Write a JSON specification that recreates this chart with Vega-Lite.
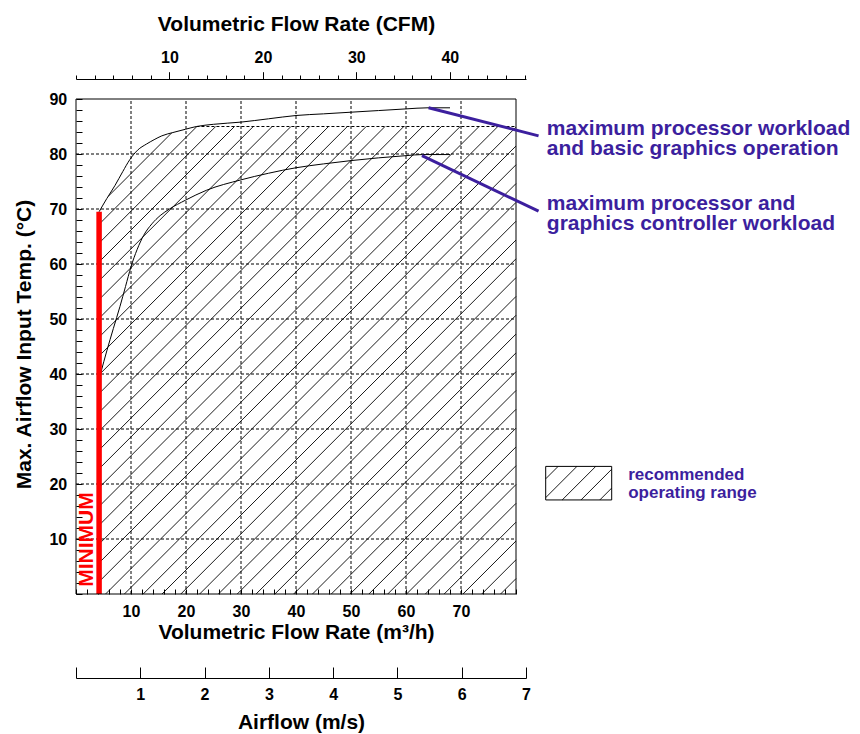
{
  "$schema": "https://vega.github.io/schema/vega-lite/v6.json",
  "width": 450,
  "height": 495,
  "autosize": {"type": "none"},
  "padding": {"left": 76, "top": 99, "right": 334, "bottom": 140},
  "background": "white",
  "config": {
    "view": {"stroke": null},
    "axis": {
      "labelFont": "Liberation Sans", "labelFontSize": 16, "labelFontWeight": "bold", "labelColor": "black",
      "titleFont": "Liberation Sans", "titleFontSize": 21, "titleFontWeight": "bold", "titleColor": "black",
      "tickColor": "black", "domainColor": "black", "tickWidth": 1, "domainWidth": 1, "grid": false,
      "labelOverlap": false, "labelFlush": false
    },
    "text": {"font": "Liberation Sans", "fontWeight": "bold"}
  },
  "datasets": {
    "curves": [
      {"s": "a", "x": 4.2, "y": 69.5}, {"s": "a", "x": 5.6, "y": 71.9}, {"s": "a", "x": 7.1, "y": 74.3}, {"s": "a", "x": 8.5, "y": 76.8},
      {"s": "a", "x": 9.8, "y": 79.0}, {"s": "a", "x": 11.2, "y": 80.7}, {"s": "a", "x": 12.8, "y": 81.8}, {"s": "a", "x": 14.2, "y": 82.6},
      {"s": "a", "x": 15.6, "y": 83.3}, {"s": "a", "x": 17.6, "y": 83.9}, {"s": "a", "x": 19.9, "y": 84.5}, {"s": "a", "x": 21.9, "y": 85.0},
      {"s": "a", "x": 25, "y": 85.4}, {"s": "a", "x": 30, "y": 85.8}, {"s": "a", "x": 35, "y": 86.4}, {"s": "a", "x": 40, "y": 87.0},
      {"s": "a", "x": 45, "y": 87.3}, {"s": "a", "x": 50, "y": 87.6}, {"s": "a", "x": 55, "y": 87.9}, {"s": "a", "x": 60, "y": 88.2},
      {"s": "a", "x": 64, "y": 88.4}, {"s": "a", "x": 68, "y": 88.4},
      {"s": "b", "x": 4.5, "y": 40.2}, {"s": "b", "x": 5.6, "y": 44.2}, {"s": "b", "x": 6.8, "y": 48.3}, {"s": "b", "x": 8.0, "y": 52.3},
      {"s": "b", "x": 9.0, "y": 55.9}, {"s": "b", "x": 10.0, "y": 59.5}, {"s": "b", "x": 11.1, "y": 62.6}, {"s": "b", "x": 12.3, "y": 65.2},
      {"s": "b", "x": 13.8, "y": 67.3}, {"s": "b", "x": 15.3, "y": 68.8}, {"s": "b", "x": 17.0, "y": 70.0}, {"s": "b", "x": 19.9, "y": 71.6},
      {"s": "b", "x": 23.7, "y": 73.4}, {"s": "b", "x": 30, "y": 75.3}, {"s": "b", "x": 35, "y": 76.5}, {"s": "b", "x": 40, "y": 77.5},
      {"s": "b", "x": 45, "y": 78.2}, {"s": "b", "x": 50, "y": 78.8}, {"s": "b", "x": 55, "y": 79.3}, {"s": "b", "x": 60, "y": 79.7},
      {"s": "b", "x": 63, "y": 79.9}, {"s": "b", "x": 68, "y": 79.9}
    ],
    "hatch": [
      {"x": 77.2, "y": 0, "x2": 80, "y2": 2.8},
      {"x": 73.78, "y": 0, "x2": 80, "y2": 6.22},
      {"x": 70.36, "y": 0, "x2": 80, "y2": 9.64},
      {"x": 66.94, "y": 0, "x2": 80, "y2": 13.06},
      {"x": 63.52, "y": 0, "x2": 80, "y2": 16.48},
      {"x": 60.1, "y": 0, "x2": 80, "y2": 19.9},
      {"x": 56.68, "y": 0, "x2": 80, "y2": 23.32},
      {"x": 53.26, "y": 0, "x2": 80, "y2": 26.74},
      {"x": 49.84, "y": 0, "x2": 80, "y2": 30.16},
      {"x": 46.42, "y": 0, "x2": 80, "y2": 33.58},
      {"x": 43.0, "y": 0, "x2": 80, "y2": 37.0},
      {"x": 39.58, "y": 0, "x2": 80, "y2": 40.42},
      {"x": 36.16, "y": 0, "x2": 80, "y2": 43.84},
      {"x": 32.74, "y": 0, "x2": 80, "y2": 47.26},
      {"x": 29.32, "y": 0, "x2": 80, "y2": 50.68},
      {"x": 25.9, "y": 0, "x2": 80, "y2": 54.1},
      {"x": 22.48, "y": 0, "x2": 80, "y2": 57.52},
      {"x": 19.06, "y": 0, "x2": 80, "y2": 60.94},
      {"x": 15.64, "y": 0, "x2": 80, "y2": 64.36},
      {"x": 12.22, "y": 0, "x2": 80, "y2": 67.78},
      {"x": 8.8, "y": 0, "x2": 80, "y2": 71.2},
      {"x": 5.38, "y": 0, "x2": 80, "y2": 74.62},
      {"x": 4.2, "y": 2.24, "x2": 80, "y2": 78.04},
      {"x": 4.2, "y": 5.66, "x2": 80, "y2": 81.46},
      {"x": 4.2, "y": 9.08, "x2": 80, "y2": 84.88},
      {"x": 4.2, "y": 12.5, "x2": 76.7, "y2": 85},
      {"x": 4.2, "y": 15.92, "x2": 73.28, "y2": 85},
      {"x": 4.2, "y": 19.34, "x2": 69.86, "y2": 85},
      {"x": 4.2, "y": 22.76, "x2": 66.44, "y2": 85},
      {"x": 4.2, "y": 26.18, "x2": 63.02, "y2": 85},
      {"x": 4.2, "y": 29.6, "x2": 59.6, "y2": 85},
      {"x": 4.2, "y": 33.02, "x2": 56.18, "y2": 85},
      {"x": 4.2, "y": 36.44, "x2": 52.76, "y2": 85},
      {"x": 4.2, "y": 39.86, "x2": 49.34, "y2": 85},
      {"x": 4.2, "y": 43.28, "x2": 45.92, "y2": 85},
      {"x": 4.2, "y": 46.7, "x2": 42.5, "y2": 85},
      {"x": 4.2, "y": 50.12, "x2": 39.08, "y2": 85},
      {"x": 4.2, "y": 53.54, "x2": 35.66, "y2": 85},
      {"x": 4.2, "y": 56.96, "x2": 32.24, "y2": 85},
      {"x": 4.2, "y": 60.38, "x2": 28.82, "y2": 85},
      {"x": 4.2, "y": 63.8, "x2": 25.4, "y2": 85},
      {"x": 4.2, "y": 67.22, "x2": 21.98, "y2": 85},
      {"x": 5.8, "y": 72.24, "x2": 18.56, "y2": 85},
      {"x": 85.4, "y": 20.94, "x2": 87.66, "y2": 23.2},
      {"x": 85.4, "y": 17.52, "x2": 91.08, "y2": 23.2},
      {"x": 88.4, "y": 17.1, "x2": 94.5, "y2": 23.2},
      {"x": 91.82, "y": 17.1, "x2": 97.4, "y2": 22.68},
      {"x": 95.24, "y": 17.1, "x2": 97.4, "y2": 19.26}
    ],
    "dashed": [
      {"x": 10, "x2": 10, "y": 0, "y2": 90}, {"x": 20, "x2": 20, "y": 0, "y2": 90},
      {"x": 30, "x2": 30, "y": 0, "y2": 90}, {"x": 40, "x2": 40, "y": 0, "y2": 90},
      {"x": 50, "x2": 50, "y": 0, "y2": 90}, {"x": 60, "x2": 60, "y": 0, "y2": 90},
      {"x": 70, "x2": 70, "y": 0, "y2": 90},
      {"x": 0, "x2": 80, "y": 10, "y2": 10}, {"x": 0, "x2": 80, "y": 20, "y2": 20},
      {"x": 0, "x2": 80, "y": 30, "y2": 30}, {"x": 0, "x2": 80, "y": 40, "y2": 40},
      {"x": 0, "x2": 80, "y": 50, "y2": 50}, {"x": 0, "x2": 80, "y": 60, "y2": 60},
      {"x": 0, "x2": 80, "y": 70, "y2": 70}, {"x": 0, "x2": 80, "y": 80, "y2": 80},
      {"x": 21.9, "x2": 80, "y": 85, "y2": 85}
    ],
    "boxes": [
      {"x": 0, "x2": 80, "y": 0, "y2": 90},
      {"x": 85.4, "x2": 97.4, "y": 17.1, "y2": 23.2}
    ]
  },
  "layer": [
    {
      "data": {"name": "hatch"},
      "mark": {"type": "rule", "color": "black", "strokeWidth": 0.9},
      "encoding": {
        "x": {
          "field": "x", "type": "quantitative",
          "scale": {"domain": [0, 81.818], "nice": false, "zero": false},
          "axis": {
            "orient": "bottom",
            "values": [0,2,4,6,8,10,12,14,16,18,20,22,24,26,28,30,32,34,36,38,40,42,44,46,48,50,52,54,56,58,60,62,64,66,68,70,72,74,76,78,80],
            "labelExpr": "datum.value % 10 == 0 && datum.value > 0 && datum.value < 80 ? datum.label : ''",
            "tickSize": -5, "domain": false, "labelPadding": 14.5, "labelOverlap": false, "labelFlush": false,
            "title": "Volumetric Flow Rate (m³/h)", "titleX": 220, "titleY": 27
          }
        },
        "x2": {"field": "x2"},
        "y": {
          "field": "y", "type": "quantitative",
          "scale": {"domain": [0, 90], "nice": false, "zero": false},
          "axis": {
            "orient": "left",
            "values": [0,2,4,6,8,10,12,14,16,18,20,22,24,26,28,30,32,34,36,38,40,42,44,46,48,50,52,54,56,58,60,62,64,66,68,70,72,74,76,78,80,82,84,86,88,90],
            "labelExpr": "datum.value % 10 == 0 && datum.value > 0 ? datum.label : ''",
            "tickSize": -6, "domain": false, "labelPadding": 15.3, "labelOverlap": false, "labelFlush": false, "labelBound": false,
            "title": "Max. Airflow Input Temp. (°C)", "titleX": -41.5, "titleY": 245
          }
        },
        "y2": {"field": "y2"}
      }
    },
    {
      "data": {"name": "curves"},
      "transform": [{"filter": "datum.s == 'a'"}],
      "mark": {"type": "area", "color": "white", "interpolate": "monotone"},
      "encoding": {
        "x": {"field": "x", "type": "quantitative", "scale": {"domain": [0, 81.818], "nice": false, "zero": false}, "axis": null},
        "y": {"field": "y", "type": "quantitative", "axis": null},
        "y2": {"datum": 86}
      }
    },
    {
      "data": {"name": "dashed"},
      "mark": {"type": "rule", "color": "black", "strokeWidth": 1, "strokeDash": [3, 2]},
      "encoding": {
        "x": {"field": "x", "type": "quantitative", "scale": {"domain": [0, 81.818], "nice": false, "zero": false}, "axis": null},
        "x2": {"field": "x2"},
        "y": {"field": "y", "type": "quantitative", "axis": null},
        "y2": {"field": "y2"}
      }
    },
    {
      "data": {"name": "curves"},
      "mark": {"type": "line", "color": "black", "strokeWidth": 1, "interpolate": "monotone"},
      "encoding": {
        "x": {"field": "x", "type": "quantitative", "scale": {"domain": [0, 81.818], "nice": false, "zero": false}, "axis": null},
        "y": {"field": "y", "type": "quantitative", "axis": null},
        "detail": {"field": "s", "type": "nominal"}
      }
    },
    {
      "data": {"values": [{"x": 4.2, "y": 0, "y2": 69.5}]},
      "mark": {"type": "rule", "color": "#ff0000", "strokeWidth": 5.5, "strokeCap": "butt"},
      "encoding": {
        "x": {"field": "x", "type": "quantitative", "scale": {"domain": [0, 81.818], "nice": false, "zero": false}, "axis": null},
        "y": {"field": "y", "type": "quantitative", "axis": null},
        "y2": {"field": "y2"}
      }
    },
    {
      "data": {"name": "boxes"},
      "mark": {"type": "rect", "fillOpacity": 0, "stroke": "black", "strokeWidth": 1},
      "encoding": {
        "x": {"field": "x", "type": "quantitative", "scale": {"domain": [0, 81.818], "nice": false, "zero": false}, "axis": null},
        "x2": {"field": "x2"},
        "y": {"field": "y", "type": "quantitative", "axis": null},
        "y2": {"field": "y2"}
      }
    },
    {
      "data": {"values": [
        {"x": 64.1, "y": 88.4, "x2": 84.1, "y2": 83.3},
        {"x": 62.9, "y": 79.7, "x2": 84.1, "y2": 69.6}
      ]},
      "mark": {"type": "rule", "color": "#3c1f9e", "strokeWidth": 3},
      "encoding": {
        "x": {"field": "x", "type": "quantitative", "scale": {"domain": [0, 81.818], "nice": false, "zero": false}, "axis": null},
        "x2": {"field": "x2"},
        "y": {"field": "y", "type": "quantitative", "axis": null},
        "y2": {"field": "y2"}
      }
    },
    {
      "data": {"values": [{"x": 2.0, "y": 9.9, "label": "MINIMUM"}]},
      "mark": {"type": "text", "color": "#ff0000", "fontSize": 21, "angle": 270, "align": "center", "baseline": "middle"},
      "encoding": {
        "x": {"field": "x", "type": "quantitative", "scale": {"domain": [0, 81.818], "nice": false, "zero": false}, "axis": null},
        "y": {"field": "y", "type": "quantitative", "axis": null},
        "text": {"field": "label", "type": "nominal"}
      }
    },
    {
      "data": {"values": [
        {"x": 85.6, "y": 83.5, "label": "maximum processor workload\nand basic graphics operation"},
        {"x": 85.6, "y": 69.9, "label": "maximum processor and\ngraphics controller workload"}
      ]},
      "mark": {"type": "text", "align": "left", "baseline": "alphabetic", "fontSize": 21, "lineHeight": 20.5, "lineBreak": "\n", "color": "#3c1f9e"},
      "encoding": {
        "x": {"field": "x", "type": "quantitative", "scale": {"domain": [0, 81.818], "nice": false, "zero": false}, "axis": null},
        "y": {"field": "y", "type": "quantitative", "axis": null},
        "text": {"field": "label", "type": "nominal"}
      }
    },
    {
      "data": {"values": [{"x": 100.4, "y": 20.8, "label": "recommended\noperating range"}]},
      "mark": {"type": "text", "align": "left", "baseline": "alphabetic", "fontSize": 17, "lineHeight": 18, "lineBreak": "\n", "color": "#3c1f9e"},
      "encoding": {
        "x": {"field": "x", "type": "quantitative", "scale": {"domain": [0, 81.818], "nice": false, "zero": false}, "axis": null},
        "y": {"field": "y", "type": "quantitative", "axis": null},
        "text": {"field": "label", "type": "nominal"}
      }
    },
    {
      "data": {"values": [{"v": 0}, {"v": 48}]},
      "mark": {"type": "rule", "strokeOpacity": 0},
      "encoding": {
        "x": {
          "field": "v", "type": "quantitative",
          "scale": {"domain": [0, 48.157], "nice": false, "zero": false},
          "axis": {
            "orient": "top", "offset": 20,
            "values": [0,2,4,6,8,10,12,14,16,18,20,22,24,26,28,30,32,34,36,38,40,42,44,46,48],
            "tickSize": 4, "labels": false, "domain": true, "title": null
          }
        }
      }
    },
    {
      "data": {"values": [{"v": 0}, {"v": 48}]},
      "mark": {"type": "rule", "strokeOpacity": 0},
      "encoding": {
        "x": {
          "field": "v", "type": "quantitative",
          "scale": {"domain": [0, 48.157], "nice": false, "zero": false},
          "axis": {
            "orient": "top", "offset": 20,
            "values": [10, 20, 30, 40],
            "tickSize": 7.3, "domain": false, "labelPadding": 6.6, "labelOverlap": false,
            "title": "Volumetric Flow Rate (CFM)", "titleX": 220, "titleY": -45
          }
        }
      }
    },
    {
      "data": {"values": [{"v": 0}, {"v": 7}]},
      "mark": {"type": "rule", "strokeOpacity": 0},
      "encoding": {
        "x": {
          "field": "v", "type": "quantitative",
          "scale": {"domain": [0, 7], "nice": false, "zero": false},
          "axis": {
            "orient": "bottom", "offset": 84,
            "values": [0, 1, 2, 3, 4, 5, 6, 7],
            "labelExpr": "datum.value == 0 ? '' : datum.label",
            "tickSize": -11, "labelPadding": 19.5, "domain": true, "labelOverlap": false,
            "title": "Airflow (m/s)", "titleX": 225, "titleY": 33
          }
        }
      }
    }
  ],
  "resolve": {"scale": {"x": "independent", "y": "shared"}, "axis": {"x": "independent", "y": "independent"}}
}
